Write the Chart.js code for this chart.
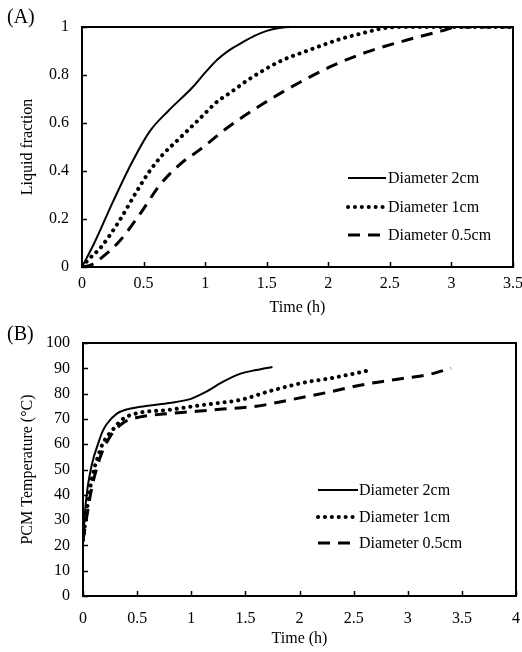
<!DOCTYPE html>
<html>
<head>
<meta charset="utf-8">
<script src="https://cdn.jsdelivr.net/npm/chart.js@4"></script>
<style>
  body { margin: 0; background: #fff; }
  .wrap { position: absolute; left: 0; width: 522px; }
  .tag { position: absolute; left: 7px; font: 20px "Liberation Serif", serif; color: #000; }
</style>
</head>
<body>
<div class="wrap" style="top:0;height:320px"><canvas id="chartA" width="522" height="320"></canvas></div>
<div class="wrap" style="top:320px;height:332px"><canvas id="chartB" width="522" height="332"></canvas></div>
<div class="tag" style="top:5px">(A)</div>
<div class="tag" style="top:322px">(B)</div>
<script>
// (A) 액상률
const timeA2 = [0, 0.1, 0.25, 0.4, 0.55, 0.7, 0.9, 1.0, 1.1, 1.2, 1.3, 1.4, 1.5, 1.6, 1.7, 2.0, 2.5, 3.0, 3.5];
const fracA2 = [0, 0.1, 0.27, 0.43, 0.565, 0.65, 0.75, 0.81, 0.865, 0.905, 0.935, 0.963, 0.984, 0.996, 1, 1, 1, 1, 1];
const timeA1 = [0, 0.05, 0.15, 0.3, 0.45, 0.55, 0.65, 0.8, 0.95, 1.1, 1.2, 1.35, 1.6, 1.85, 2.1, 2.3, 2.45, 2.6, 3.0, 3.5];
const fracA1 = [0, 0.03, 0.08, 0.19, 0.32, 0.4, 0.465, 0.54, 0.615, 0.69, 0.725, 0.78, 0.855, 0.905, 0.95, 0.977, 0.995, 1, 1, 1];
const timeA05 = [0, 0.08, 0.15, 0.3, 0.47, 0.63, 0.8, 0.96, 1.18, 1.47, 1.77, 2.04, 2.31, 2.64, 2.93, 3.05, 3.2, 3.5];
const fracA05 = [0, 0.01, 0.035, 0.105, 0.22, 0.34, 0.43, 0.49, 0.58, 0.68, 0.77, 0.84, 0.895, 0.946, 0.985, 1, 1, 1];

// (B) PCM 온도
const timeB2 = [0, 0.02, 0.04, 0.065, 0.1, 0.13, 0.18, 0.22, 0.31, 0.43, 0.6, 0.8, 0.99, 1.08, 1.14, 1.29, 1.45, 1.6, 1.75];
const tempB2 = [22, 34, 42, 48.5, 55, 59, 65, 68, 72, 74, 75.2, 76.3, 77.8, 79.5, 80.8, 84.6, 87.8, 89.3, 90.5];
const timeB1 = [0, 0.03, 0.06, 0.09, 0.13, 0.18, 0.28, 0.37, 0.53, 0.78, 1.02, 1.2, 1.45, 1.76, 2.07, 2.25, 2.48, 2.65];
const tempB1 = [22, 32, 41, 48, 54, 60, 66, 70, 72.5, 73.5, 75, 76, 77.5, 81.4, 84.6, 85.8, 87.7, 89.3];
const timeB05 = [0, 0.03, 0.06, 0.09, 0.16, 0.25, 0.37, 0.53, 0.74, 1.05, 1.29, 1.6, 1.91, 2.25, 2.62, 2.99, 3.18, 3.4];
const tempB05 = [22, 30, 38, 44.5, 55, 63, 68.4, 70.8, 71.9, 73, 73.9, 75, 77.5, 80.4, 83.8, 86.2, 87.4, 90];

const seriesLabels = ['Diameter 2cm', 'Diameter 1cm', 'Diameter 0.5cm'];

const FONT = { family: '"Liberation Serif", serif', size: 16 };

// 선 스타일 (실선, 점선, 파선)
const lineStyles = [
  { borderWidth: 2, borderDash: [], borderCapStyle: 'butt' },
  { borderWidth: 4, borderDash: [0.1, 6.8], borderCapStyle: 'round' },
  { borderWidth: 3, borderDash: [12, 8], borderCapStyle: 'butt' },
];

const toPoints = (xs, ys) => xs.map((x, i) => ({ x: x, y: ys[i] }));

// 눈금 숫자: 1.0 -> 1
const fmt = (v) => String(Number(Number(v).toFixed(2)));

const makeDatasets = (pairs) =>
  pairs.map((p, i) => ({
    label: seriesLabels[i],
    data: toPoints(p[0], p[1]),
    borderColor: '#000',
    backgroundColor: '#000',
    pointRadius: 0,
    fill: false,
    cubicInterpolationMode: 'monotone',
    ...lineStyles[i],
  }));

// 테두리, 안쪽 눈금, 범례
const framePlugin = {
  id: 'frame',
  afterDraw(chart, args, opts) {
    const { ctx, chartArea: a, scales } = chart;
    ctx.save();
    ctx.strokeStyle = '#000';
    ctx.lineWidth = 1.5;
    scales.x.ticks.forEach((t) => {
      const px = Math.round(scales.x.getPixelForValue(t.value)) + 0.5;
      ctx.beginPath();
      ctx.moveTo(px, a.bottom);
      ctx.lineTo(px, a.bottom - 5);
      ctx.stroke();
    });
    scales.y.ticks.forEach((t) => {
      const py = Math.round(scales.y.getPixelForValue(t.value)) + 0.5;
      ctx.beginPath();
      ctx.moveTo(a.left, py);
      ctx.lineTo(a.left + 5, py);
      ctx.stroke();
    });
    ctx.lineWidth = 2;
    ctx.strokeRect(a.left, a.top, a.right - a.left, a.bottom - a.top);

    // 범례
    ctx.font = '16px "Liberation Serif", serif';
    ctx.fillStyle = '#000';
    ctx.textBaseline = 'middle';
    chart.data.datasets.forEach((ds, i) => {
      const y = opts.rows[i];
      ctx.beginPath();
      ctx.lineWidth = ds.borderWidth;
      ctx.setLineDash(ds.borderDash);
      ctx.lineCap = ds.borderCapStyle;
      ctx.moveTo(opts.x0, y);
      ctx.lineTo(opts.x1, y);
      ctx.stroke();
      ctx.setLineDash([]);
      ctx.fillText(ds.label, opts.tx, y + 1);
    });
    ctx.restore();
  },
};

function makeChart(el, cfg) {
  return new Chart(document.querySelector(el), {
    type: 'line',
    data: { datasets: cfg.datasets },
    options: {
      responsive: false,
      animation: false,
      devicePixelRatio: 1,
      layout: { padding: { top: cfg.padTop, right: cfg.padRight, left: 0, bottom: 0 } },
      plugins: {
        legend: { display: false },
        tooltip: { enabled: false },
        frame: cfg.legend,
      },
      scales: {
        x: {
          type: 'linear',
          min: 0,
          max: cfg.xMax,
          grid: { display: false, drawTicks: false },
          border: { display: false },
          ticks: { stepSize: 0.5, color: '#000', font: FONT, padding: cfg.xTickPad, maxRotation: 0, callback: fmt },
          title: { display: true, text: 'Time (h)', color: '#000', font: FONT, padding: { top: 0, bottom: cfg.xTitlePad } },
          afterFit: (s) => {
            s.height = cfg.xHeight;
            s.paddingLeft = 0;
            s.paddingRight = 0;
          },
        },
        y: {
          min: 0,
          max: cfg.yMax,
          grid: { display: false, drawTicks: false },
          border: { display: false },
          ticks: { stepSize: cfg.yStep, color: '#000', font: FONT, padding: 13, callback: fmt },
          title: { display: true, text: cfg.yTitle, color: '#000', font: FONT, padding: { top: 18, bottom: 0 } },
          afterFit: (s) => {
            s.width = cfg.yWidth;
            s.paddingTop = 0;
            s.paddingBottom = 0;
          },
        },
      },
    },
    plugins: [framePlugin],
  });
}

const chartA = makeChart('#chartA', {
  datasets: makeDatasets([[timeA2, fracA2], [timeA1, fracA1], [timeA05, fracA05]]),
  padTop: 27, padRight: 9, xMax: 3.5, yMax: 1, yStep: 0.2,
  xHeight: 53, xTickPad: 7, xTitlePad: 3, yWidth: 82,
  yTitle: 'Liquid fraction',
  legend: { rows: [178, 207, 235], x0: 348, x1: 386, tx: 388 },
});

const chartB = makeChart('#chartB', {
  datasets: makeDatasets([[timeB2, tempB2], [timeB1, tempB1], [timeB05, tempB05]]),
  padTop: 23, padRight: 6, xMax: 4, yMax: 100, yStep: 10,
  xHeight: 56, xTickPad: 13, xTitlePad: 4, yWidth: 83,
  yTitle: 'PCM Temperature (°C)',
  legend: { rows: [170, 197, 223], x0: 318, x1: 358, tx: 359 },
});
</script>
</body>
</html>
